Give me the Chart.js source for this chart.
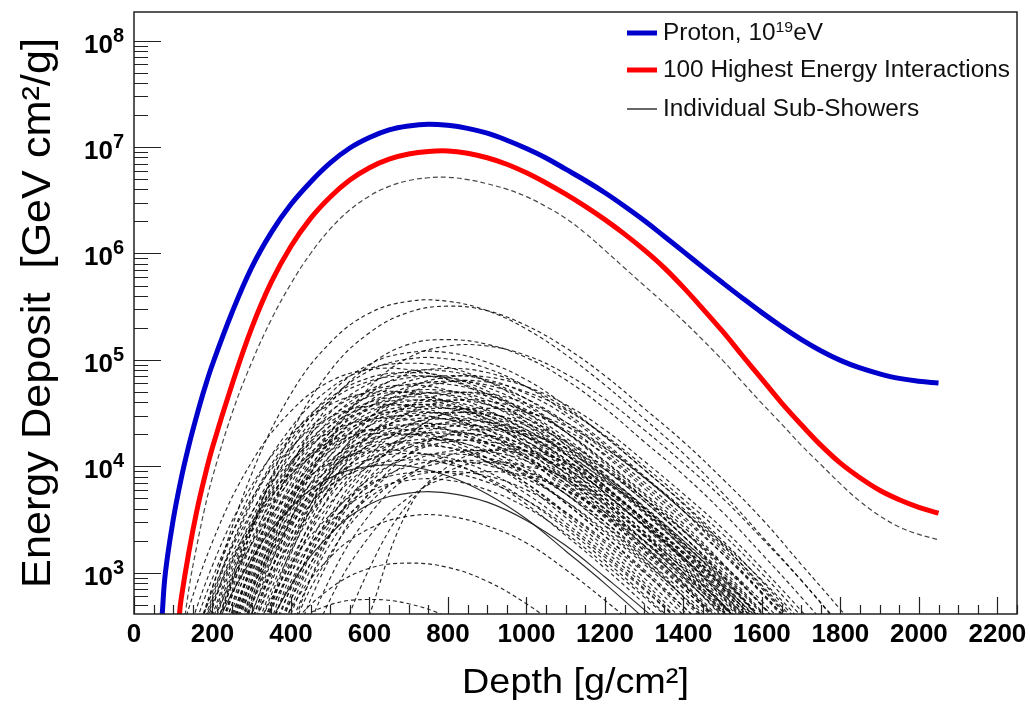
<!DOCTYPE html>
<html>
<head>
<meta charset="utf-8">
<script src="https://cdn.jsdelivr.net/npm/chart.js@4.4.1/dist/chart.umd.min.js"></script>
<style>
html,body{margin:0;padding:0;background:#fff;}
canvas{display:block;}
</style>
</head>
<body>
<canvas id="c" width="1030" height="706"></canvas>
<script>
// ---------------- DATA ----------------
const xTickLabels = [0,200,400,600,800,1000,1200,1400,1600,1800,2000,2200];
const yTickExponents = [3,4,5,6,7,8];

const protonDepth = [65,72,80,100,120,140,160,180,200,250,300,350,400,450,500,550,600,650,700,750,800,850,900,950,1000,1050,1100,1150,1200,1250,1300,1350,1400,1450,1500,1550,1600,1650,1700,1750,1800,1850,1900,1950,2000,2050];
const protonValue = [160,410,1000,3160,7600,1.58e4,3.0e4,5.4e4,9.1e4,2.8e5,7.4e5,1.58e6,2.9e6,4.7e6,7.1e6,9.8e6,1.23e7,1.45e7,1.58e7,1.64e7,1.6e7,1.5e7,1.35e7,1.16e7,9.7e6,7.9e6,6.2e6,4.85e6,3.72e6,2.78e6,2.04e6,1.46e6,1.04e6,7.4e5,5.3e5,3.82e5,2.78e5,2.06e5,1.56e5,1.22e5,9.9e4,8.4e4,7.4e4,6.7e4,6.3e4,6.05e4];

const top100Depth = [108,115,120,140,160,180,200,250,300,350,400,450,500,550,600,650,700,750,800,850,900,950,1000,1050,1100,1150,1200,1250,1300,1350,1400,1450,1500,1550,1600,1650,1700,1750,1800,1850,1900,1950,2000,2050];
const top100Value = [200,380,560,1580,3800,7900,1.51e4,5.9e4,2.0e5,5.4e5,1.17e6,2.14e6,3.4e6,4.9e6,6.4e6,7.7e6,8.6e6,9.1e6,9.2e6,8.75e6,7.94e6,6.9e6,5.73e6,4.6e6,3.61e6,2.77e6,2.08e6,1.52e6,1.08e6,7.4e5,4.8e5,3.0e5,1.85e5,1.1e5,6.6e4,3.95e4,2.47e4,1.58e4,1.07e4,7.8e3,5.95e3,4.85e3,4.12e3,3.63e3];

const leadSubDepth = [120,140,160,180,200,250,300,350,400,450,500,550,600,650,700,750,800,850,900,950,1000,1050,1100,1150,1200,1250,1300,1350,1400,1450,1500,1550,1600,1650,1700,1750,1800,1850,1900,1950,2000,2050];
const leadSubValue = [200,710,1780,4000,7900,3.16e4,9.5e4,2.4e5,5.2e5,1.0e6,1.7e6,2.57e6,3.47e6,4.27e6,4.84e6,5.15e6,5.2e6,4.95e6,4.52e6,4.02e6,3.42e6,2.76e6,2.14e6,1.55e6,1.07e6,7.3e5,5.0e5,3.43e5,2.32e5,1.53e5,9.9e4,6.2e4,3.9e4,2.5e4,1.58e4,1.04e4,6840,4680,3430,2690,2290,2040];

const subDepth = [100,200,300,400,500,600,700,800,900,1000,1100,1200,1300,1400,1500,1600,1700,1800,1900,2000];
const subShowerValues = [
 [46,720,8500,4.8e4,1.45e5,2.75e5,3.55e5,3.55e5,2.9e5,1.95e5,1.12e5,5.8e4,2.8e4,1.32e4,5600,2200,850,310,110,38],
 [10,160,2500,2.0e4,7.9e4,1.8e5,2.8e5,3.2e5,2.9e5,2.1e5,1.3e5,7.1e4,3.5e4,1.7e4,7600,3200,1200,450,160,56],
 [10,78,1200,9800,3.9e4,8.9e4,1.4e5,1.55e5,1.4e5,1.05e5,6.5e4,3.5e4,1.7e4,8300,3700,1500,590,220,78,10],
 [10,10,280,3200,1.8e4,5.5e4,1.05e5,1.35e5,1.35e5,1.1e5,7.4e4,4.3e4,2.2e4,1.07e4,5000,2100,850,320,120,42],
 [10,210,2500,1.4e4,4.2e4,7.9e4,1.02e5,1.02e5,8.3e4,5.6e4,3.2e4,1.66e4,8100,3800,1600,650,250,89,32,10],
 [47,740,5900,2.3e4,5.4e4,8.3e4,9.3e4,8.5e4,6.3e4,3.9e4,2.1e4,1.05e4,5000,2200,930,350,130,47,10,10],
 [10,42,660,5200,2.1e4,4.8e4,7.4e4,8.3e4,7.6e4,5.6e4,3.5e4,1.9e4,9300,4500,2000,830,320,120,42,10],
 [38,600,4800,1.9e4,4.4e4,6.8e4,7.6e4,6.9e4,5.1e4,3.2e4,1.7e4,8500,4100,1800,760,290,110,38,10,10],
 [10,140,1600,9100,2.75e4,5.2e4,6.8e4,6.8e4,5.5e4,3.7e4,2.1e4,1.1e4,5400,2500,1070,430,160,59,10,10],
 [10,10,130,1500,8300,2.5e4,4.8e4,6.2e4,6.2e4,5.0e4,3.4e4,1.95e4,1.0e4,4900,2300,980,390,150,54,10],
 [10,460,3600,1.45e4,3.3e4,5.1e4,5.8e4,5.2e4,3.9e4,2.4e4,1.3e4,6500,3100,1400,580,220,81,10,10,10],
 [10,105,1200,6900,2.1e4,4.0e4,5.1e4,5.1e4,4.2e4,2.8e4,1.6e4,8300,4100,1900,810,320,120,45,10,10],
 [10,10,98,1150,6500,1.95e4,3.7e4,4.8e4,4.8e4,3.9e4,2.6e4,1.5e4,7800,3800,1800,760,300,115,42,10],
 [10,350,2800,1.1e4,2.6e4,4.0e4,4.5e4,4.1e4,3.0e4,1.9e4,1.0e4,5000,2400,1070,450,170,63,10,10,10],
 [10,10,330,2600,1.05e4,2.4e4,3.7e4,4.2e4,3.8e4,2.8e4,1.75e4,9300,4700,2200,1000,420,160,59,10,10],
 [76,890,5000,1.5e4,2.9e4,3.7e4,3.7e4,3.0e4,2.0e4,1.2e4,6000,3000,1400,590,230,89,32,10,10,10],
 [10,71,830,4700,1.4e4,2.7e4,3.5e4,3.5e4,2.8e4,1.9e4,1.1e4,5600,2750,1300,550,220,83,10,10,10],
 [10,10,260,2000,8100,1.9e4,2.9e4,3.2e4,3.0e4,2.2e4,1.35e4,7200,3600,1700,780,320,120,46,10,10],
 [10,240,1900,7600,1.75e4,2.7e4,3.0e4,2.75e4,2.0e4,1.26e4,6800,3400,1600,720,300,115,43,10,10,10],
 [10,56,660,3700,1.1e4,2.1e4,2.75e4,2.75e4,2.2e4,1.5e4,8700,4500,2200,1000,440,170,66,10,10,10],
 [10,10,52,620,3500,1.05e4,2.0e4,2.6e4,2.6e4,2.1e4,1.4e4,8100,4200,2000,950,410,160,62,10,10],
 [10,195,1550,6200,1.4e4,2.2e4,2.45e4,2.2e4,1.66e4,1.0e4,5500,2750,1300,590,245,93,35,10,10,10],
 [10,45,520,3000,8900,1.7e4,2.2e4,2.2e4,1.8e4,1.2e4,6900,3500,1700,810,350,140,52,10,10,10],
 [10,10,170,1300,5200,1.2e4,1.9e4,2.1e4,1.9e4,1.4e4,8700,4700,2300,1100,500,210,79,10,10,10],
 [42,490,2750,8300,1.6e4,2.0e4,2.0e4,1.66e4,1.1e4,6500,3300,1600,760,320,130,49,10,10,10,10],
 [10,130,1050,4200,9500,1.5e4,1.66e4,1.5e4,1.1e4,6900,3700,1900,890,400,170,63,10,10,10,10],
 [10,10,35,410,2300,6900,1.3e4,1.7e4,1.7e4,1.4e4,9300,5400,2750,1350,630,270,110,41,10,10],
 [10,10,350,2000,6000,1.15e4,1.5e4,1.5e4,1.2e4,8100,4700,2400,1200,550,230,93,35,10,10,10],
 [10,10,105,830,3300,7600,1.2e4,1.3e4,1.2e4,8900,5500,3000,1500,710,320,130,50,10,10,10],
 [10,91,720,2900,6600,1.0e4,1.15e4,1.05e4,7800,4800,2600,1300,620,280,115,44,10,10,10,10],
 [10,10,10,260,1500,4500,8500,1.1e4,1.1e4,8900,6000,3500,1800,870,410,170,69,10,10,10],
 [10,10,210,1200,3500,6800,8700,8700,7100,4800,2750,1400,690,320,140,55,10,10,10,10],
 [10,240,1350,4100,7800,1.0e4,1.0e4,8100,5500,3200,1600,790,370,160,63,10,10,10,10,10],
 [10,10,135,760,2300,4400,5600,5600,4600,3100,1800,910,450,210,89,35,10,10,10,10],
 [10,10,81,460,1400,2600,3400,3400,2750,1900,1070,550,270,126,54,10,10,10,10,10],
 [10,10,78,310,710,1100,1230,1120,830,510,275,138,66,10,10,10,10,10,10,10],
 [10,35,140,320,500,560,510,380,230,126,63,10,10,10,10,10,10,10,10,10],
 [10,10,10,71,560,2200,5100,7900,8900,8100,6000,3700,2000,1000,480,210,89,34,10,10],
 [10,10,10,180,1400,5600,1.3e4,2.0e4,2.2e4,2.0e4,1.5e4,9300,5000,2500,1200,540,220,85,32,10],
 [10,10,10,10,32,400,4000,1.0e4,1.4e4,1.4e4,1.1e4,7100,4000,2000,890,350,126,40,10,10],
 [10,10,10,10,130,1100,4500,8900,1.1e4,1.0e4,7900,5000,2800,1400,630,250,89,30,10,10],
 [166,1950,1.1e4,3.3e4,6.3e4,8.1e4,8.1e4,6.6e4,4.5e4,2.6e4,1.3e4,6500,3000,1300,510,195,71,25,10,10],
 [10,160,1900,1.05e4,3.2e4,6.0e4,7.8e4,7.8e4,6.3e4,4.3e4,2.45e4,1.26e4,6200,2900,1230,490,186,68,24,10],
 [10,32,500,4000,1.58e4,3.6e4,5.6e4,6.3e4,5.8e4,4.3e4,2.6e4,1.4e4,7100,3400,1500,630,240,89,32,10],
 [100,1170,6600,2.0e4,3.8e4,4.9e4,4.9e4,4.0e4,2.7e4,1.55e4,7900,3900,1800,780,310,117,43,15,10,10],
 [10,10,83,980,5500,1.66e4,3.2e4,4.1e4,4.1e4,3.3e4,2.2e4,1.3e4,6600,3200,1500,650,260,98,35,13],
 [19,300,2400,9500,2.2e4,3.4e4,3.8e4,3.5e4,2.6e4,1.58e4,8500,4300,2000,910,380,145,54,19,10,10],
 [10,83,980,5500,1.66e4,3.2e4,4.1e4,4.1e4,3.3e4,2.2e4,1.3e4,6600,3200,1500,650,260,98,35,13,10],
 [10,13,200,1580,6300,1.45e4,2.2e4,2.5e4,2.3e4,1.7e4,1.05e4,5600,2800,1350,600,250,95,35,13,10],
 [10,160,1260,5000,1.15e4,1.8e4,2.0e4,1.8e4,1.35e4,8300,4500,2200,1070,480,200,76,28,10,10,10],
 [10,63,740,4200,1.26e4,2.4e4,3.1e4,3.1e4,2.5e4,1.7e4,9800,5000,2450,1150,490,195,74,27,10,10],
 [10,10,63,740,4200,1.26e4,2.4e4,3.1e4,3.1e4,2.5e4,1.7e4,9800,5000,2450,1150,490,195,74,27,10],
 [56,660,3700,1.12e4,2.1e4,2.75e4,2.75e4,2.2e4,1.5e4,8700,4500,2200,1020,440,174,66,24,10,10,10],
 [10,25,400,3200,1.26e4,2.9e4,4.5e4,5.0e4,4.6e4,3.4e4,2.1e4,1.12e4,5600,2700,1200,500,190,71,25,10],
 [10,120,1400,7900,2.4e4,4.6e4,5.9e4,5.9e4,4.8e4,3.2e4,1.86e4,9500,4700,2200,930,370,141,51,18,10],
 [25,400,3200,1.26e4,2.9e4,4.5e4,5.0e4,4.6e4,3.4e4,2.1e4,1.12e4,5600,2700,1200,500,190,71,25,10,10],
 [10,10,141,1120,4500,1.02e4,1.58e4,1.78e4,1.62e4,1.2e4,7400,4000,2000,950,430,178,68,25,10,10],
 [10,35,420,2340,7100,1.35e4,1.74e4,1.74e4,1.41e4,9500,5500,2800,1380,650,275,110,42,15,10,10],
 [28,330,1860,5600,1.07e4,1.38e4,1.38e4,1.12e4,7600,4400,2240,1100,510,220,87,33,12,10,10,10],
 [10,10,40,470,2600,7900,1.5e4,1.95e4,1.95e4,1.58e4,1.07e4,6200,3200,1550,720,310,123,47,17,10],
 [17,260,2100,8300,1.9e4,2.95e4,3.3e4,3.0e4,2.2e4,1.38e4,7400,3700,1780,790,330,126,47,17,10,10],
 [10,50,590,3300,1.0e4,1.9e4,2.45e4,2.45e4,2.0e4,1.35e4,7800,4000,1950,910,390,155,59,21,10,10],
 [10,10,89,710,2800,6500,1.0e4,1.12e4,1.02e4,7600,4700,2500,1260,600,270,112,43,16,10,10],
 [10,10,18,280,2240,8900,2.0e4,3.2e4,3.5e4,3.2e4,2.4e4,1.48e4,7900,4000,1900,850,350,135,50,18],
 [10,10,10,112,890,3500,8100,1.26e4,1.41e4,1.29e4,9500,5900,3200,1580,760,340,141,54,20,10],
 [15,240,2800,1.58e4,4.8e4,9.1e4,1.17e5,1.17e5,9.5e4,6.5e4,3.7e4,1.9e4,9300,4400,1860,740,280,102,36,13],
 [10,10,71,560,2240,5100,7900,8900,8100,6000,3700,2000,1000,480,214,89,34,10,10,10],
 [10,10,28,330,1860,5600,1.07e4,1.38e4,1.38e4,1.12e4,7600,4400,2240,1100,510,220,87,33,12,10],
 [10,15,178,1000,3000,5750,7400,7400,6000,4100,2340,1200,590,275,117,47,10,10,10,10],
 [10,18,280,2240,8900,2.0e4,3.2e4,3.5e4,3.2e4,2.4e4,1.48e4,7900,4000,1900,850,355,135,50,18,10],
 [35,560,4500,1.78e4,4.1e4,6.3e4,7.1e4,6.5e4,4.8e4,3.0e4,1.58e4,7900,3800,1700,710,270,100,35,13,10],
 [10,10,141,1660,9300,2.8e4,5.4e4,6.9e4,6.9e4,5.6e4,3.8e4,2.2e4,1.12e4,5500,2600,1100,440,166,60,21],
 [10,95,1120,6300,1.9e4,3.6e4,4.7e4,4.7e4,3.8e4,2.6e4,1.48e4,7600,3700,1740,740,295,112,41,14,10],
 [45,520,2950,8900,1.7e4,2.2e4,2.2e4,1.78e4,1.2e4,6900,3550,1740,810,350,138,52,19,10,10,10],
 [10,14,224,1780,7100,1.62e4,2.5e4,2.8e4,2.6e4,1.9e4,1.17e4,6300,3160,1500,680,280,107,40,14,10],
 [10,76,890,5000,1.5e4,2.9e4,3.7e4,3.7e4,3.0e4,2.0e4,1.17e4,6000,2950,1380,590,234,89,32,11,10],
 [10,105,830,3300,7600,1.17e4,1.32e4,1.2e4,8900,5500,2950,1480,710,316,132,50,19,10,10,10],
 [10,10,48,560,3160,9500,1.82e4,2.35e4,2.35e4,1.9e4,1.29e4,7400,3800,1860,870,370,148,56,20,10],
 [10,35,560,4500,1.78e4,4.1e4,6.3e4,7.1e4,6.5e4,4.8e4,3.0e4,1.58e4,7900,3800,1700,710,270,100,35,13],
 [10,42,490,2750,8300,1.58e4,2.0e4,2.0e4,1.66e4,1.12e4,6500,3300,1620,760,324,129,49,18,10,10],
 [21,330,2630,1.05e4,2.4e4,3.7e4,4.2e4,3.8e4,2.8e4,1.74e4,9300,4700,2240,1000,417,158,59,21,10,10]
];
const solidSubShowers = [32, 33];

const legendLabels = ['Proton, 10', '100 Highest Energy Interactions', 'Individual Sub-Showers'];

// ---------------- BUILD ----------------
const zip = (xs, ys) => xs.map((x, i) => ({x: x, y: ys[i]}));
const FONT = '"Liberation Sans", Arial, Helvetica, sans-serif';

const datasets = [
  {label: 'Proton', data: zip(protonDepth, protonValue), borderColor: '#0000cc', borderWidth: 5},
  {label: '100 Highest', data: zip(top100Depth, top100Value), borderColor: '#ff0000', borderWidth: 5},
  {label: 'lead', data: zip(leadSubDepth, leadSubValue), borderColor: 'rgba(40,40,40,0.85)', borderWidth: 1.2, borderDash: [5, 3]}
];
subShowerValues.forEach((vals, i) => {
  const solid = solidSubShowers.includes(i);
  datasets.push({
    label: 'sub' + i,
    data: zip(subDepth, vals),
    borderColor: solid ? 'rgba(20,20,20,0.9)' : 'rgba(0,0,0,0.85)',
    borderWidth: 1.15,
    borderDash: solid ? [] : [4, 3]
  });
});

function stretchedText(ctx, text, x, y, sx) {
  ctx.save();
  ctx.translate(x, y);
  ctx.scale(sx, 1);
  ctx.fillText(text, 0, 0);
  ctx.restore();
}

const rootStyle = {
  id: 'rootStyle',
  afterDraw(chart) {
    const {ctx, chartArea: a} = chart;
    const xs = chart.scales.x, ys = chart.scales.y;
    ctx.save();
    // ticks
    ctx.strokeStyle = '#222';
    ctx.lineWidth = 1.2;
    ctx.beginPath();
    for (let v = 0; v <= xs.max + 0.1; v += 50) {
      const px = Math.round(xs.getPixelForValue(v)) + 0.5;
      const len = (v % 200 === 0) ? 17 : 9;
      ctx.moveTo(px, a.bottom); ctx.lineTo(px, a.bottom - len);
    }
    for (let e = 2; e <= 8; e++) {
      for (let m = 1; m <= 9; m++) {
        const v = m * Math.pow(10, e);
        if (v < ys.min || v > ys.max) continue;
        const py = Math.round(ys.getPixelForValue(v)) + 0.5;
        const len = (m === 1) ? 27 : 14;
        ctx.moveTo(a.left, py); ctx.lineTo(a.left + len, py);
      }
    }
    ctx.stroke();
    // frame
    ctx.lineWidth = 1.5;
    ctx.strokeStyle = '#222';
    ctx.strokeRect(a.left, a.top, a.right - a.left, a.bottom - a.top);

    // x tick labels
    ctx.fillStyle = '#000';
    ctx.font = 'bold 26px ' + FONT;
    ctx.textAlign = 'center';
    ctx.textBaseline = 'alphabetic';
    xTickLabels.forEach(v => {
      ctx.fillText(String(v), xs.getPixelForValue(v), a.bottom + 28);
    });
    // y tick labels
    yTickExponents.forEach(e => {
      const py = ys.getPixelForValue(Math.pow(10, e));
      ctx.font = 'bold 26px ' + FONT;
      ctx.textAlign = 'right';
      ctx.fillText('10', a.left - 21, py + 12);
      ctx.font = 'bold 20px ' + FONT;
      ctx.textAlign = 'left';
      ctx.fillText(String(e), a.left - 21, py + 1);
    });
    // axis titles
    ctx.font = '35px ' + FONT;
    ctx.textAlign = 'center';
    stretchedText(ctx, 'Depth [g/cm²]', (a.left + a.right) / 2, a.bottom + 79, 1.08);
    ctx.save();
    ctx.translate(50, (a.top + a.bottom) / 2);
    ctx.rotate(-Math.PI / 2);
    ctx.scale(1.08, 1);
    ctx.font = '40px ' + FONT;
    ctx.fillText('Energy Deposit  [GeV cm²/g]', 0, 0);
    ctx.restore();

    // legend
    const lx0 = a.left + 493, lx1 = a.left + 523, tx = a.left + 529;
    const rows = [a.top + 21, a.top + 58, a.top + 97];
    const cols = ['#0000cc', '#ff0000', '#000'];
    const lw = [5, 5, 1.2];
    ctx.textAlign = 'left';
    const sx = 1.06;
    rows.forEach((ry, i) => {
      ctx.strokeStyle = cols[i]; ctx.lineWidth = lw[i];
      ctx.beginPath(); ctx.moveTo(lx0, ry); ctx.lineTo(lx1, ry); ctx.stroke();
      ctx.fillStyle = '#111';
      ctx.font = '23px ' + FONT;
      stretchedText(ctx, legendLabels[i], tx, ry + 7, sx);
      if (i === 0) {
        const w = ctx.measureText(legendLabels[0]).width * sx;
        ctx.font = '15px ' + FONT;
        stretchedText(ctx, '19', tx + w, ry - 1, sx);
        const w2 = ctx.measureText('19').width * sx;
        ctx.font = '23px ' + FONT;
        stretchedText(ctx, 'eV', tx + w + w2, ry + 7, sx);
      }
    });
    ctx.restore();
  }
};

new Chart(document.getElementById('c'), {
  type: 'line',
  data: {datasets: datasets},
  options: {
    responsive: false,
    animation: false,
    devicePixelRatio: 1,
    layout: {padding: {top: 12, right: 13, left: 0, bottom: 0}},
    elements: {point: {radius: 0}, line: {tension: 0.4, fill: false}},
    plugins: {legend: {display: false}, tooltip: {enabled: false}},
    scales: {
      x: {type: 'linear', min: 0, max: 2250,
          ticks: {display: false}, grid: {display: false}, border: {display: false},
          afterFit: s => { s.height = 92; }},
      y: {type: 'logarithmic', min: 409, max: 1.86e8,
          ticks: {display: false}, grid: {display: false}, border: {display: false},
          afterFit: s => { s.width = 134; }}
    }
  },
  plugins: [rootStyle]
});
</script>
</body>
</html>
